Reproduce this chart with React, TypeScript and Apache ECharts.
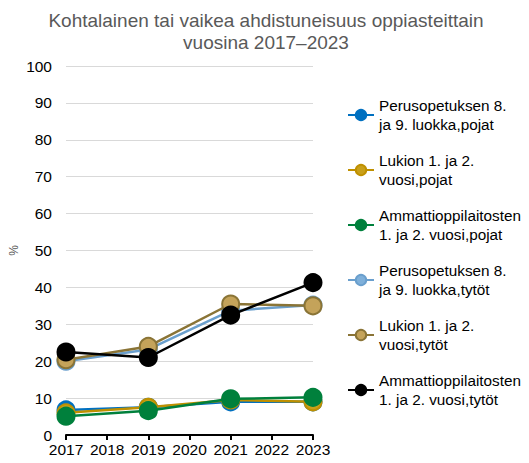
import React, { useEffect, useRef } from "react";
import * as echarts from "echarts";

const years = [2017, 2019, 2021, 2023];
const perusPojat = [6.8, 7.5, 9.0, 9.0];
const lukioPojat = [6.0, 7.5, 9.5, 9.0];
const ammattiPojat = [5.1, 6.6, 9.8, 10.2];
const perusTytot = [20.0, 23.2, 33.7, 35.2];
const lukioTytot = [20.4, 24.0, 35.5, 35.0];
const ammattiTytot = [22.5, 21.0, 32.5, 41.3];

const names = [
  "Perusopetuksen 8.\nja 9. luokka,pojat",
  "Lukion 1. ja 2.\nvuosi,pojat",
  "Ammattioppilaitosten\n1. ja 2. vuosi,pojat",
  "Perusopetuksen 8.\nja 9. luokka,tytöt",
  "Lukion 1. ja 2.\nvuosi,tytöt",
  "Ammattioppilaitosten\n1. ja 2. vuosi,tytöt",
];
const values = [perusPojat, lukioPojat, ammattiPojat, perusTytot, lukioTytot, ammattiTytot];
const lineColors = ["#0070C0", "#BF9000", "#00803C", "#6A9FCD", "#8A7436", "#000000"];
const fillColors = ["#0070C0", "#C9A01A", "#00803C", "#7FB0DA", "#C4A35A", "#000000"];

export default function App() {
  const ref = useRef<HTMLDivElement>(null);
  useEffect(() => {
    const chart = echarts.init(ref.current!, undefined, { renderer: "svg" });
    chart.setOption({
      animation: false,
      textStyle: { fontFamily: "Liberation Sans, Arial, sans-serif" },
      title: {
        text: "Kohtalainen tai vaikea ahdistuneisuus oppiasteittain\nvuosina 2017–2023",
        left: 261,
        textAlign: "center",
        top: 4,
        textStyle: { fontSize: 19, fontWeight: "normal", color: "#595959", lineHeight: 22, fontFamily: "Liberation Sans, Arial, sans-serif" },
      },
      grid: { left: 66, right: 216, top: 66, bottom: 28 },
      legend: {
        orient: "vertical",
        left: 347,
        top: 96,
        padding: 0,
        itemWidth: 26,
        itemHeight: 13,
        itemGap: 17,
        textStyle: { fontSize: 15.3, lineHeight: 19, color: "#000" },
        data: names,
      },
      xAxis: {
        type: "value",
        min: 2017,
        max: 2023,
        interval: 1,
        axisLine: { show: true, lineStyle: { color: "#000", width: 2 } },
        axisTick: { show: true, length: 5, lineStyle: { color: "#000", width: 2 } },
        axisLabel: { formatter: (v: number) => String(v), fontSize: 15.5, color: "#000", margin: 6 },
        splitLine: { show: false },
      },
      yAxis: {
        type: "value",
        min: 0,
        max: 100,
        interval: 10,
        name: "%",
        nameLocation: "middle",
        nameGap: 46,
        nameTextStyle: { fontSize: 12, color: "#595959" },
        axisLine: { show: false },
        axisTick: { show: false },
        axisLabel: { fontSize: 15.5, color: "#000", margin: 14 },
        splitLine: { lineStyle: { color: "#D9D9D9", width: 1 } },
      },
      series: names.map((n, i) => ({
        name: n,
        type: "line",
        data: years.map((y, j) => [y, values[i][j]]),
        symbol: "circle",
        symbolSize: 17,
        lineStyle: { color: lineColors[i], width: 2.5 },
        itemStyle: { color: fillColors[i], borderColor: lineColors[i], borderWidth: 2 },
        z: 2 + i,
      })),
    });
    return () => chart.dispose();
  }, []);
  return <div ref={ref} style={{ width: 529, height: 463, margin: -8 }} />;
}
